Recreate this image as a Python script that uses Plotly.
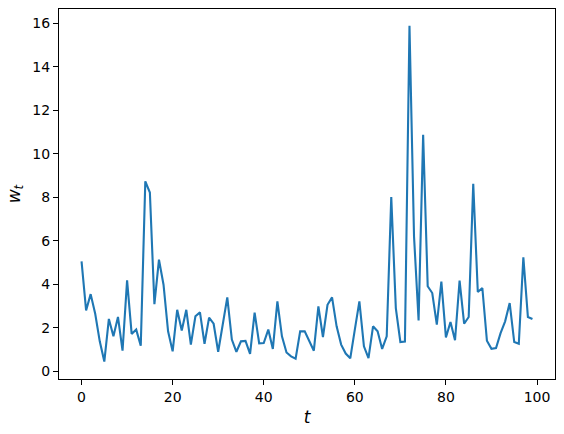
import plotly.graph_objects as go

t = list(range(100))
w = [5.05, 2.8, 3.55, 2.65, 1.38, 0.45, 2.41, 1.61, 2.5, 0.95,
     4.18, 1.72, 1.92, 1.18, 8.73, 8.22, 3.09, 5.13, 3.98, 1.84,
     0.92, 2.83, 1.88, 2.83, 1.23, 2.53, 2.71, 1.27, 2.47, 2.19,
     0.9, 2.2, 3.4, 1.46, 0.9, 1.38, 1.4, 0.8, 2.7, 1.29,
     1.3, 1.92, 1.03, 3.22, 1.61, 0.87, 0.69, 0.58, 1.84, 1.84,
     1.38, 0.95, 2.99, 1.58, 3.06, 3.4, 2.07, 1.23, 0.82, 0.6,
     1.92, 3.22, 1.15, 0.61, 2.07, 1.84, 1.03, 1.61, 8.01, 2.91,
     1.35, 1.37, 15.88, 6.2, 2.34, 10.87, 3.91, 3.6, 2.15, 4.13,
     1.56, 2.27, 1.43, 4.17, 2.19, 2.5, 8.62, 3.65, 3.83, 1.41,
     1.04, 1.07, 1.76, 2.3, 3.14, 1.35, 1.27, 5.24, 2.5, 2.41]

x_ticks = [0, 20, 40, 60, 80, 100]
y_ticks = [0, 2, 4, 6, 8, 10, 12, 14, 16]

fig = go.Figure(go.Scatter(x=t, y=w, mode="lines",
                           line=dict(color="#1f77b4", width=2.1)))

axis_common = dict(showline=True, linecolor="black", linewidth=1, mirror=True,
                   ticks="outside", ticklen=5, tickwidth=1, tickcolor="black",
                   showgrid=False, zeroline=False, automargin=False,
                   tickfont=dict(family="DejaVu Sans", size=14, color="black"))

fig.update_layout(
    width=564, height=434,
    margin=dict(l=59, r=9, t=9, b=55),
    paper_bgcolor="white", plot_bgcolor="white",
    showlegend=False,
    xaxis=dict(range=[-4.95, 103.95], tickvals=x_ticks,
               title=dict(text="<i>t</i>", standoff=7,
                          font=dict(family="DejaVu Sans", size=17, color="black")),
               **axis_common),
    yaxis=dict(range=[-0.35, 16.65], tickvals=y_ticks,
               title=dict(text="<i>w</i><sub><i>t</i></sub>", standoff=7,
                          font=dict(family="DejaVu Sans", size=17, color="black")),
               **axis_common),
)

fig.write_html("out.html", config={"displayModeBar": False},
               post_script="document.body.style.margin='0';document.body.style.padding='0';")
